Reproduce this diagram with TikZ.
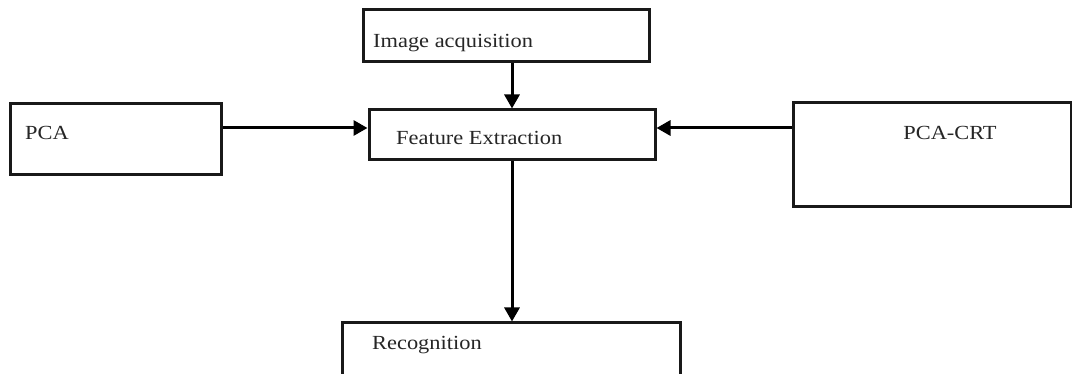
\documentclass[tikz,border=0pt]{standalone}
\usepackage{fontspec}
\setmainfont[FakeStretch=1.12]{Liberation Serif}
\usetikzlibrary{arrows.meta}
\begin{document}
\begin{tikzpicture}[x=1pt,y=-1pt,
  box/.style={draw=black!90,line width=3pt,fill=white,rectangle,inner sep=0pt},
  lbl/.style={inner sep=0pt,font=\fontsize{20}{24}\selectfont,text=black!85},
  arr/.style={draw=black,line width=3pt,-{Triangle[length=14pt,width=15pt]}}]
\useasboundingbox (0,0) rectangle (1072,374);
\clip (0,0) rectangle (1072,374);
\node[box,minimum width=286pt,minimum height=52pt] (img) at (506,36) {};
\node[box,minimum width=286pt,minimum height=50pt] (fe) at (512,135) {};
\node[box,minimum width=211pt,minimum height=71pt] (pca) at (115.5,139.5) {};
\node[box,minimum width=278pt,minimum height=104pt] (crt) at (932,155) {};
\node[box,minimum width=338pt,minimum height=90pt] (rec) at (511,368) {};
\node[lbl,anchor=base west] (timg) at (373,48) {Image acquisition};
\node[lbl,anchor=base west] (tfe) at (396,145) {Feature Extraction};
\node[lbl,anchor=base west] (tpca) at (25,140) {PCA};
\node[lbl,anchor=base] (tcrt) at (950,140) {PCA-CRT};
\node[lbl,anchor=base west] (trec) at (372,350) {Recognition};
\coordinate (ay) at (0,128);
\draw[arr] (img.south -| fe.north) -- (fe.north);
\draw[arr] (pca.east |- ay) -- (fe.west |- ay);
\draw[arr] (crt.west |- ay) -- (fe.east |- ay);
\draw[arr] (fe.south) -- (rec.north -| fe.south);
\end{tikzpicture}
\end{document}
